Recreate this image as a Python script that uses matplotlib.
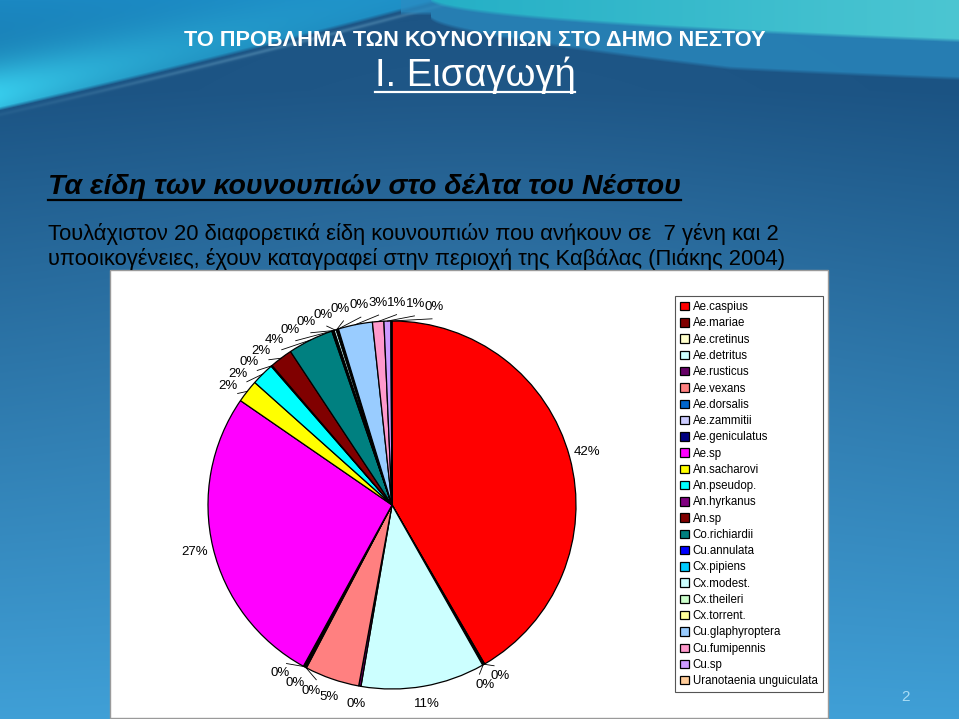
import numpy as np
import matplotlib
matplotlib.use("Agg")
import matplotlib.pyplot as plt
from matplotlib.patches import Rectangle
from matplotlib.lines import Line2D

# ---------------- data ----------------
species = ["Ae.caspius", "Ae.mariae", "Ae.cretinus", "Ae.detritus", "Ae.rusticus",
           "Ae.vexans", "Ae.dorsalis", "Ae.zammitii", "Ae.geniculatus", "Ae.sp",
           "An.sacharovi", "An.pseudop.", "An.hyrkanus", "An.sp", "Co.richiardii",
           "Cu.annulata", "Cx.pipiens", "Cx.modest.", "Cx.theileri", "Cx.torrent.",
           "Cu.glaphyroptera", "Cu.fumipennis", "Cu.sp", "Uranotaenia unguiculata"]
shares = [41.6, 0.1, 0.1, 10.9, 0.2,
          4.8, 0.1, 0.1, 0.1, 26.6,
          2.0, 2.0, 0.1, 2.0, 4.0,
          0.1, 0.1, 0.2, 0.1, 0.1,
          3.0, 1.0, 0.6, 0.1]
colors = ["#FF0000", "#800000", "#FFFFCC", "#CCFFFF", "#660066",
          "#FF8080", "#0066CC", "#CCCCFF", "#000080", "#FF00FF",
          "#FFFF00", "#00FFFF", "#800080", "#800000", "#008080",
          "#0000FF", "#00CCFF", "#CCFFFF", "#CCFFCC", "#FFFF99",
          "#99CCFF", "#FF99CC", "#CC99FF", "#FFCC99"]

title_top = "ΤΟ ΠΡΟΒΛΗΜΑ ΤΩΝ ΚΟΥΝΟΥΠΙΩΝ ΣΤΟ ΔΗΜΟ ΝΕΣΤΟΥ"
title_main = "Ι. Εισαγωγή"
heading = "Τα είδη των κουνουπιών στο δέλτα του Νέστου"
body1 = "Τουλάχιστον 20 διαφορετικά είδη κουνουπιών που ανήκουν σε  7 γένη και 2"
body2 = "υποοικογένειες, έχουν καταγραφεί στην περιοχή της Καβάλας (Πιάκης 2004)"
page_no = "2"

FA = ["Liberation Sans", "DejaVu Sans"]

W, H = 959, 719
fig = plt.figure(figsize=(W / 100, H / 100), dpi=100)

# ---------------- background (slide design) ----------------
bg = fig.add_axes([0, 0, 1, 1])
bg.set_axis_off()
yy, xx = np.mgrid[0:H, 0:W].astype(float)


def hexrgb(h):
    return np.array([int(h[i:i + 2], 16) for i in (1, 3, 5)]) / 255.0


def soft(v, w=2.0):
    return np.clip(0.5 + v / (2 * w), 0, 1)[..., None]


dark = hexrgb("#1a5282")
light = hexrgb("#3f9fd6")
t = np.clip((yy - 90) / (H - 90), 0, 1)[..., None]
img = dark * (1 - t) + light * t
img = np.clip(img + 0.035 * np.exp(-(((xx - 480) / 420) ** 2 + ((yy - 330) / 300) ** 2))[..., None], 0, 1)

# top-left blue sweep
a = 108 - 0.23 * xx - 0.00004 * xx ** 2
mA = soft(a - yy)
colA = hexrgb("#1b88c2") * (1 - np.clip(yy / 110, 0, 1))[..., None] * 0.15 + hexrgb("#1b88c2") * 0.85
img = img * (1 - mA) + colA * mA
# broad cyan glow in lower-left of the sweep
glow = np.exp(-((a - yy - 14) / 34) ** 2) * np.exp(-xx / 200)
glow = np.clip(glow, 0, 1)[..., None] * mA
img = img * (1 - glow * 0.9) + hexrgb("#3ad4f2") * glow * 0.9
# faint light streak under the sweep
streak = np.exp(-((yy - (a + 6)) / 2.0) ** 2) * np.exp(-((xx - 300) / 250) ** 2) * 0.25
img = img * (1 - streak[..., None]) + hexrgb("#9fd8ee") * streak[..., None]

# top-right teal wave
xr = np.clip((xx - 430) / 529, 0, None)
b = np.where(xx > 430, 42 * np.sqrt(xr) - 2, -5)
band = np.where(xx > 400, b + 18 + 20 * np.clip((xx - 430) / 300, 0, 1), -5)
mC = soft(band - yy)
img = img * (1 - mC * 0.75) + hexrgb("#2a8cc2") * mC * 0.75
mB = soft(b - yy)
colB = hexrgb("#24afc6") * (1 - np.clip(xr, 0, 1))[..., None] + hexrgb("#4cc6d2") * np.clip(xr, 0, 1)[..., None]
img = img * (1 - mB) + colB * mB
bg.imshow(np.clip(img, 0, 1), extent=[0, W, H, 0], aspect="auto", interpolation="bilinear")
bg.set_xlim(0, W)
bg.set_ylim(H, 0)


# ---------------- texts ----------------
def underline(txt, lw, color, drop=1.5):
    fig.canvas.draw()
    bb = txt.get_window_extent()
    y = bb.y0 + drop
    fig.add_artist(Line2D([bb.x0 / W, bb.x1 / W], [y / H, y / H], transform=fig.transFigure,
                          color=color, lw=lw))


fig.text(475 / W, 1 - 40 / H, title_top, ha="center", va="center", color="white",
         fontsize=15.7, fontweight="bold", family=FA)
t_main = fig.text(475 / W, 1 - 75 / H, title_main, ha="center", va="center", color="white",
                  fontsize=27.5, family=FA)
t_head = fig.text(48 / W, 1 - 187 / H, heading, ha="left", va="center", color="black",
                  fontsize=20.5, fontweight="bold", style="italic", family=FA)
fig.text(48 / W, 1 - 234 / H, body1, ha="left", va="center", color="black",
         fontsize=15.85, family=FA)
fig.text(48 / W, 1 - 259 / H, body2, ha="left", va="center", color="black",
         fontsize=15.85, family=FA)
fig.text(905 / W, 1 - 697 / H, page_no, ha="center", va="center", color="#a8dcf5",
         fontsize=11, family=FA)

# ---------------- chart box ----------------
fig.add_artist(Rectangle((110 / W, 1 - 718 / H), 718 / W, 448 / H, transform=fig.transFigure,
                         facecolor="white", edgecolor="#9a9a9a", lw=1, zorder=1))

# ---------------- pie ----------------
cx, cy, R = 392, 505, 184
half = 1.25 * R
pax = fig.add_axes([(cx - half) / W, (H - cy - half) / H, 2 * half / W, 2 * half / H])
pax.set_zorder(2)
wedges, _, autotexts = pax.pie(shares, colors=colors, startangle=90, counterclock=False,
                               autopct="%1.0f%%", pctdistance=1.1,
                               wedgeprops=dict(edgecolor="black", linewidth=0.9),
                               textprops=dict(fontsize=9.5, family=FA, color="black",
                                              ha="center", va="center"))
pax.set_xlim(-1.25, 1.25)
pax.set_ylim(-1.25, 1.25)
pax.set_aspect("equal")
pax.set_axis_off()

# spread crowded labels around the rim (angles clockwise from 12 o'clock)
vals = np.array(shares, dtype=float)
fr = vals / vals.sum() * 360.0
mid = np.cumsum(fr) - fr / 2
lab = mid.copy()
n = len(lab)
for _ in range(400):
    for i in range(n):
        j = (i + 1) % n
        aj = lab[j] + (360 if j == 0 else 0)
        gap = aj - lab[i]
        ang = np.radians((lab[i] + aj) / 2)
        need = 3.0 + 2.4 * abs(np.cos(ang))
        if gap < need:
            push = (need - gap) / 2
            lab[i] -= push
            lab[j] += push
for i, txt in enumerate(autotexts):
    a_m, a_l = np.radians(mid[i]), np.radians(lab[i])
    r = 1.1
    txt.set_position((r * np.sin(a_l), r * np.cos(a_l)))
    if abs(lab[i] - mid[i]) > 2.0:
        pax.plot([np.sin(a_m), 1.035 * np.sin(a_l)], [np.cos(a_m), 1.035 * np.cos(a_l)],
                 color="black", lw=0.6)

# ---------------- legend ----------------
leg = fig.legend(wedges, species, loc="upper left",
                 bbox_to_anchor=(675 / W, 1 - 296 / H), bbox_transform=fig.transFigure,
                 frameon=True, fancybox=False, edgecolor="#555555", framealpha=1,
                 prop=dict(family=FA, size=8.3), handlelength=0.75, handleheight=0.75,
                 handletextpad=0.35, labelspacing=0.37, borderpad=0.45, borderaxespad=0)
leg.get_frame().set_linewidth(0.8)
leg.set_zorder(3)

underline(t_main, 1.6, "white", 2)
underline(t_head, 1.6, "black", 1)

fig.savefig("out.png", dpi=100)
